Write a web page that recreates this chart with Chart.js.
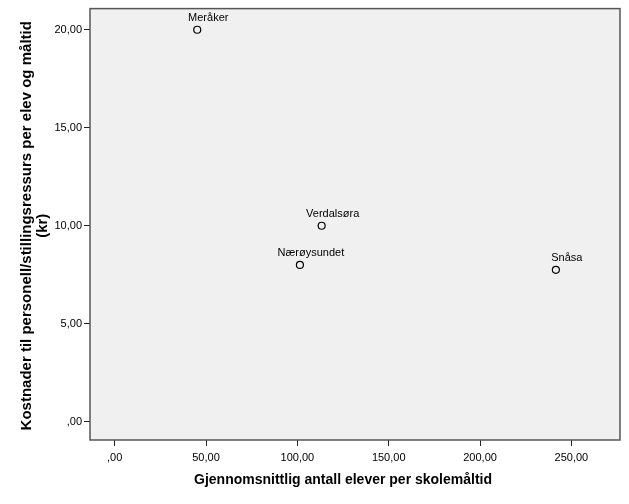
<!DOCTYPE html>
<html>
<head>
<meta charset="utf-8">
<script src="https://cdn.jsdelivr.net/npm/chart.js@4.4.1/dist/chart.umd.min.js"></script>
<style>
  html, body { margin: 0; padding: 0; background: #fff; }
  #wrap { width: 629px; height: 504px; }
</style>
</head>
<body>
<div id="wrap"><canvas id="scatter" width="629" height="504"></canvas></div>
<script>
// Data
var places = ['Meråker', 'Verdalsøra', 'Nærøysundet', 'Snåsa'];
var avgStudents = [45.2, 113.3, 101.4, 241.5];
var costPerMeal = [20.0, 10.0, 8.0, 7.75];
var xTicks = [0, 50, 100, 150, 200, 250];
var yTicks = [0, 5, 10, 15, 20];

var xTitle = 'Gjennomsnittlig antall elever per skolemåltid';
var yTitle = ['Kostnader til personell/stillingsressurs per elev og måltid', '(kr)'];

var FONT = '"Liberation Sans", Arial, sans-serif';

function fmt(v) {
    var s = v.toFixed(2).replace('.', ',');
    if (s.indexOf('0,') === 0) s = s.substring(1);
    return s;
}

// grey plot frame behind the points
var frame = {
    id: 'frame',
    beforeDatasetsDraw: function (chart) {
        var a = chart.chartArea, c = chart.ctx;
        c.save();
        c.fillStyle = '#f0f0f0';
        c.fillRect(a.left, a.top, a.right - a.left, a.bottom - a.top);
        c.strokeStyle = '#555';
        c.lineWidth = 1.5;
        c.strokeRect(a.left, a.top, a.right - a.left, a.bottom - a.top);
        c.restore();
    }
};

// names above points + axis titles
var labels = {
    id: 'labels',
    afterDatasetsDraw: function (chart) {
        var c = chart.ctx;
        var meta = chart.getDatasetMeta(0);
        c.save();
        c.fillStyle = '#000';
        c.font = '11px ' + FONT;
        c.textAlign = 'center';
        c.textBaseline = 'middle';
        meta.data.forEach(function (pt, i) {
            c.fillText(places[i], pt.x + 11, pt.y - 12);
        });

        var xs = chart.scales.x, ys = chart.scales.y;
        c.font = 'bold 14px ' + FONT;
        var cx = (xs.getPixelForValue(xTicks[0]) + xs.getPixelForValue(xTicks[xTicks.length - 1])) / 2;
        c.fillText(xTitle, cx, 480);

        var cy = (ys.getPixelForValue(yTicks[0]) + ys.getPixelForValue(yTicks[yTicks.length - 1])) / 2;
        c.font = 'bold 15px ' + FONT;
        c.translate(27, cy);
        c.rotate(-Math.PI / 2);
        c.fillText(yTitle[0], 0, 0);
        c.fillText(yTitle[1], 0, 16);
        c.restore();
    }
};

new Chart(document.getElementById('scatter'), {
    type: 'scatter',
    data: {
        datasets: [{
            data: avgStudents.map(function (x, i) { return { x: x, y: costPerMeal[i] }; }),
            pointRadius: 3.5,
            pointHoverRadius: 3.5,
            pointBorderWidth: 1.2,
            pointBorderColor: '#000',
            pointBackgroundColor: 'rgba(0,0,0,0)'
        }]
    },
    options: {
        responsive: false,
        animation: false,
        layout: { padding: { top: 7, right: 9, left: 0, bottom: 0 } },
        plugins: {
            legend: { display: false },
            tooltip: { enabled: false }
        },
        scales: {
            x: {
                type: 'linear',
                min: -13.5,
                max: 276.6,
                afterBuildTicks: function (s) { s.ticks = xTicks.map(function (v) { return { value: v }; }); },
                afterFit: function (s) { s.height = 64; },
                border: { display: false },
                grid: { drawOnChartArea: false, drawTicks: true, tickLength: 6, color: '#222', tickWidth: 1 },
                ticks: {
                    color: '#000',
                    font: { family: FONT, size: 11 },
                    padding: 5,
                    maxRotation: 0,
                    callback: function (v) { return fmt(v); }
                }
            },
            y: {
                type: 'linear',
                min: -0.93,
                max: 21.08,
                afterBuildTicks: function (s) { s.ticks = yTicks.map(function (v) { return { value: v }; }); },
                afterFit: function (s) { s.width = 90; },
                border: { display: false },
                grid: { drawOnChartArea: false, drawTicks: true, tickLength: 6, color: '#222', tickWidth: 1 },
                ticks: {
                    color: '#000',
                    font: { family: FONT, size: 11 },
                    padding: 2,
                    callback: function (v) { return fmt(v); }
                }
            }
        }
    },
    plugins: [frame, labels]
});
</script>
</body>
</html>
